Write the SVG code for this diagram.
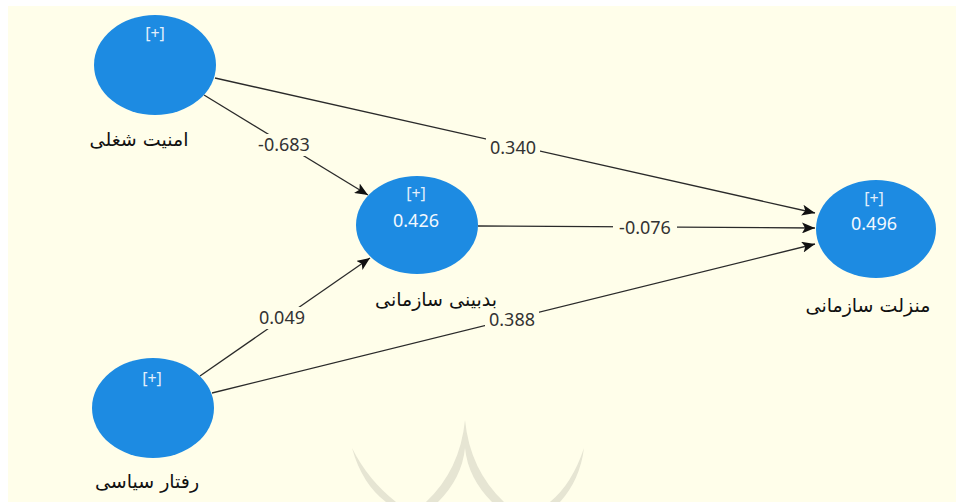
<svg xmlns="http://www.w3.org/2000/svg" width="956" height="502" viewBox="0 0 956 502">
<defs>
<style>
.node{fill:#1D8BE2;}
.plus{font-family:"Noto Sans","DejaVu Sans",sans-serif;font-size:16px;fill:#E3EFFB;text-anchor:middle;}
.val{font-family:"Noto Sans","DejaVu Sans",sans-serif;font-size:18px;fill:#F2F8FE;text-anchor:middle;}
.lbl{font-family:"DejaVu Sans","Noto Sans",sans-serif;font-size:19px;fill:#111;text-anchor:middle;}
.edge{stroke:#2a2a2a;stroke-width:1.3;fill:none;marker-end:url(#arr);}
.elbl{font-family:"Noto Sans","DejaVu Sans",sans-serif;font-size:18px;fill:#333;text-anchor:middle;}
.bg{fill:#FFFEEA;}
</style>
<marker id="arr" viewBox="0 0 13 11" refX="13" refY="5.5" markerWidth="13" markerHeight="11" markerUnits="userSpaceOnUse" orient="auto">
<path d="M0,0 L13,5.5 L0,11 L3,5.5 Z" fill="#111"/>
</marker>
</defs>
<rect x="0" y="0" width="956" height="502" fill="#ffffff"/>
<rect x="8" y="6" width="948" height="496" class="bg"/>
<g id="watermark" fill="#E6E5D3">
<path d="M352,448 Q362,484 386,502 L396,502 Q368,480 352,448 Z"/>
<path d="M465,420 Q460,470 426,502 L438,502 Q462,478 465,448 Q468,478 492,502 L504,502 Q470,470 465,420 Z"/>
<path d="M584,448 Q572,484 550,502 L560,502 Q580,480 584,448 Z"/>
</g>
<g id="connectors">
<line class="edge" x1="215" y1="78" x2="815" y2="213"/>
<line class="edge" x1="204" y1="95" x2="368" y2="195"/>
<line class="edge" x1="478" y1="226" x2="815" y2="228"/>
<line class="edge" x1="200" y1="376" x2="370" y2="258"/>
<line class="edge" x1="212" y1="393" x2="815" y2="244"/>
<rect class="bg" x="255" y="134" width="58" height="22"/>
<text class="elbl" x="284" y="151">-0.683</text>
<rect class="bg" x="486" y="137" width="54" height="22"/>
<text class="elbl" x="513" y="154">0.340</text>
<rect class="bg" x="613" y="217" width="64" height="22"/>
<text class="elbl" x="645" y="234">-0.076</text>
<rect class="bg" x="255" y="307" width="54" height="22"/>
<text class="elbl" x="282" y="324">0.049</text>
<rect class="bg" x="485" y="309" width="54" height="22"/>
<text class="elbl" x="512" y="326">0.388</text>
</g>
<g id="node-job-security">
<ellipse class="node" cx="155" cy="65" rx="61" ry="50"/>
<text class="plus" x="155" y="39">[+]</text>
<text class="lbl" x="139" y="146">امنیت شغلی</text>
</g>
<g id="node-cynicism">
<ellipse class="node" cx="417" cy="225" rx="61" ry="49"/>
<text class="plus" x="416" y="199">[+]</text>
<text class="val" x="416" y="227">0.426</text>
<text class="lbl" x="436" y="306">بدبینی سازمانی</text>
</g>
<g id="node-status">
<ellipse class="node" cx="876" cy="229" rx="60" ry="49"/>
<text class="plus" x="874" y="204">[+]</text>
<text class="val" x="874" y="230">0.496</text>
<text class="lbl" x="868" y="312">منزلت  سازمانی</text>
</g>
<g id="node-political">
<ellipse class="node" cx="153" cy="408" rx="61" ry="50"/>
<text class="plus" x="152" y="384">[+]</text>
<text class="lbl" x="147" y="488">رفتار سیاسی</text>
</g>
</svg>
